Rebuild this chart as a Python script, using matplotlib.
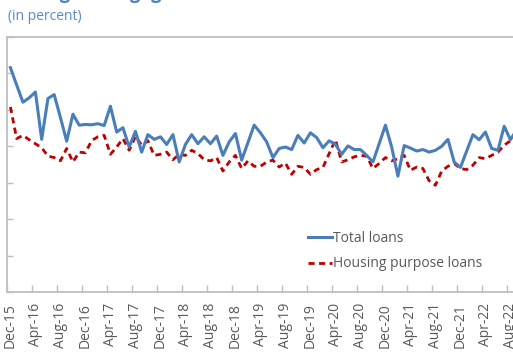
import matplotlib
matplotlib.use("Agg")
import matplotlib.pyplot as plt
import numpy as np

plt.rcParams['font.family'] = ['Open Sans', 'DejaVu Sans']

tick_labels = ["Dec-15", "Apr-16", "Aug-16", "Dec-16", "Apr-17", "Aug-17", "Dec-17",
               "Apr-18", "Aug-18", "Dec-18", "Apr-19", "Aug-19", "Dec-19", "Apr-20",
               "Aug-20", "Dec-20", "Apr-21", "Aug-21", "Dec-21", "Apr-22", "Aug-22"]

total_loans = [6.16, 5.68, 5.21, 5.33, 5.49, 4.19, 5.31, 5.42, 4.79, 4.14,
               4.88, 4.58, 4.60, 4.59, 4.62, 4.57, 5.10, 4.39, 4.51, 3.98,
               4.41, 3.84, 4.32, 4.19, 4.26, 4.05, 4.32, 3.57, 4.05, 4.32,
               4.07, 4.26, 4.07, 4.28, 3.75, 4.12, 4.35, 3.62, 4.10, 4.58,
               4.37, 4.12, 3.69, 3.94, 3.98, 3.91, 4.30, 4.09, 4.37, 4.24,
               3.96, 4.15, 4.05, 3.78, 4.01, 3.91, 3.91, 3.75, 3.57, 4.07,
               4.58, 3.98, 3.18, 4.02, 3.95, 3.87, 3.91, 3.84, 3.89, 4.00,
               4.19, 3.57, 3.42, 3.87, 4.32, 4.18, 4.39, 3.94, 3.89, 4.55,
               4.18, 4.45]

housing_loans = [5.08, 4.21, 4.30, 4.18, 4.07, 3.96, 3.73, 3.69, 3.60, 3.94,
                 3.57, 3.84, 3.82, 4.16, 4.26, 4.30, 3.78, 3.98, 4.21, 3.89,
                 4.27, 4.03, 4.15, 3.75, 3.78, 3.84, 3.63, 3.78, 3.75, 3.89,
                 3.80, 3.63, 3.60, 3.69, 3.32, 3.57, 3.75, 3.39, 3.60, 3.45,
                 3.45, 3.57, 3.62, 3.43, 3.54, 3.23, 3.45, 3.42, 3.23, 3.36,
                 3.42, 3.80, 4.18, 3.57, 3.63, 3.71, 3.75, 3.73, 3.39, 3.53,
                 3.69, 3.60, 3.66, 3.75, 3.34, 3.43, 3.39, 3.05, 2.93, 3.32,
                 3.45, 3.53, 3.39, 3.36, 3.48, 3.69, 3.66, 3.75, 3.84, 4.03,
                 4.15, 4.25]

W, H = 513, 362
fig = plt.figure(figsize=(W / 100, H / 100), dpi=100)

px_per_month = 6.25
xmax = 90
left_px, bottom_px, top_px = 7.3, 292, 37
ax = fig.add_axes([left_px / W, (H - bottom_px) / H,
                   xmax * px_per_month / W, (bottom_px - top_px) / H])

x = np.arange(len(total_loans)) + 0.5
ax.plot(x, total_loans, color='#4A7EBB', lw=2.2, label='Total loans', zorder=3)
ax.plot(x, housing_loans, color='#C00000', lw=2.0, ls=(0, (2.2, 1.6)),
        label='Housing purpose loans', zorder=2)

ax.set_xlim(0, xmax)
ax.set_ylim(0, 7)

spine_col = '#BFBFBF'
for s in ax.spines.values():
    s.set_color(spine_col)
    s.set_linewidth(1.3)

major = np.arange(0, 4 * len(tick_labels), 4)
ax.set_xticks(major)
ax.set_xticklabels([])
ax.set_xticks(major + 0.5, minor=True)
ax.set_xticklabels(tick_labels, minor=True, rotation=90, fontsize=10,
                   color='#595959', va='top', ha='center')
ax.tick_params(axis='x', which='major', direction='in', length=5, color=spine_col, width=1)
ax.tick_params(axis='x', which='minor', length=0, pad=8)
ax.set_yticks(np.arange(0, 8, 1))
ax.set_yticklabels([])
ax.tick_params(axis='y', direction='in', length=4, color=spine_col, width=1)

leg = fig.legend(loc='upper left', bbox_to_anchor=(308 / W, (H - 231) / H),
                 frameon=False, fontsize=10, handlelength=1.7, handletextpad=0.1,
                 labelspacing=0.75, borderpad=0, borderaxespad=0)
for t in leg.get_texts():
    t.set_color('#595959')

fig.text(8 / W, (H - 16) / H, '(in percent)', fontsize=10, color='#5A8AC6',
         va='center', ha='left')
fig.text(8 / W, (H + 1) / H, 'Average mortgage interest rates on new loans',
         fontsize=13, fontweight='bold', color='#4F81BD', va='baseline', ha='left')

fig.savefig('out.png', dpi=100)
